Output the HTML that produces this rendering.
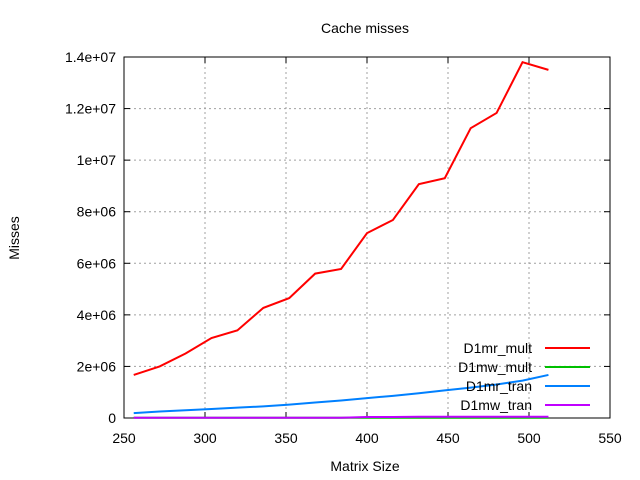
<!DOCTYPE html>
<html><head><meta charset="utf-8"><style>
body{margin:0;background:#fff}
svg{display:block;font-family:"Liberation Sans",sans-serif;font-size:14px}
</style></head><body>
<svg id="chart" width="640" height="480">
<rect width="640" height="480" fill="#fff"/>
<text x="365" y="33" text-anchor="middle">Cache misses</text>
<text x="365" y="471" text-anchor="middle">Matrix Size</text>
<text x="19" y="238" text-anchor="middle" transform="rotate(-90 19 238)">Misses</text>
<g id="grid"></g><g id="axes"></g><g id="series"></g><g id="legend"></g>
</svg>
<script>
const sizes=[256,272,288,304,320,336,352,368,384,400,416,432,448,464,480,496,512];
const d1mrMult=[1.67e6,2.0e6,2.5e6,3.1e6,3.4e6,4.27e6,4.65e6,5.6e6,5.78e6,7.17e6,7.68e6,9.07e6,9.3e6,11.24e6,11.83e6,13.8e6,13.5e6];
const d1mwMult=[0.01e6,0.01e6,0.01e6,0.01e6,0.01e6,0.01e6,0.01e6,0.01e6,0.01e6,0.01e6,0.01e6,0.01e6,0.01e6,0.01e6,0.01e6,0.01e6,0.01e6];
const d1mrTran=[0.19e6,0.25e6,0.3e6,0.35e6,0.4e6,0.45e6,0.52e6,0.6e6,0.68e6,0.77e6,0.86e6,0.96e6,1.07e6,1.18e6,1.3e6,1.45e6,1.67e6];
const d1mwTran=[0.01e6,0.01e6,0.01e6,0.01e6,0.01e6,0.01e6,0.01e6,0.01e6,0.01e6,0.04e6,0.04e6,0.05e6,0.05e6,0.05e6,0.05e6,0.05e6,0.05e6];
const xTicks=[250,300,350,400,450,500,550];
const yTicks=[0,2e6,4e6,6e6,8e6,1e7,1.2e7,1.4e7];
const yTickLabels=["0","2e+06","4e+06","6e+06","8e+06","1e+07","1.2e+07","1.4e+07"];
const seriesNames=["D1mr_mult","D1mw_mult","D1mr_tran","D1mw_tran"];
const seriesColors=["#ff0000","#00c000","#0080ff","#c000ff"];
const L=124,R=610,T=57,B=418;
const sx=v=>L+(v-250)/300*(R-L);
const sy=v=>B-v/1.4e7*(B-T);
const NS="http://www.w3.org/2000/svg";
function mk(tag,attrs,parent){const e=document.createElementNS(NS,tag);for(const k in attrs)e.setAttribute(k,attrs[k]);parent.appendChild(e);return e;}
const grid=document.getElementById('grid'),axes=document.getElementById('axes'),ser=document.getElementById('series'),leg=document.getElementById('legend');
xTicks.forEach((t,i)=>{const x=sx(t);
 if(i>0&&i<xTicks.length-1){const g=mk('line',{x1:x,x2:x,y1:T,y2:B,stroke:'#a0a0a0','stroke-dasharray':'2,3'},grid);
 
 }
 mk('line',{x1:x,x2:x,y1:B,y2:B-6,stroke:'#000'},axes);mk('line',{x1:x,x2:x,y1:T,y2:T+6,stroke:'#000'},axes);
 const tx=mk('text',{x:x,y:B+25,'text-anchor':'middle'},axes);tx.textContent=t;
 
 });
yTicks.forEach((t,i)=>{const y=sy(t);
 if(i>0&&i<yTicks.length-1){const g=mk('line',{x1:L,x2:R,y1:y,y2:y,stroke:'#a0a0a0','stroke-dasharray':'2,3'},grid);
 
 }
 mk('line',{x1:L,x2:L+6,y1:y,y2:y,stroke:'#000'},axes);mk('line',{x1:R,x2:R-6,y1:y,y2:y,stroke:'#000'},axes);
 const tx=mk('text',{x:L-8,y:y+5,'text-anchor':'end'},axes);tx.textContent=yTickLabels[i];
 
 });
const frame=mk('rect',{x:L,y:T,width:R-L,height:B-T,fill:'none',stroke:'#000'},axes);


[d1mrMult,d1mwMult,d1mrTran,d1mwTran].forEach((arr,i)=>{
 const p=mk('polyline',{points:arr.map((v,j)=>sx(sizes[j])+','+sy(v)).join(' '),fill:'none',stroke:seriesColors[i],'stroke-width':2},ser);
 
 
 const y=348+i*19;
 const t=mk('text',{x:532,y:y+5,'text-anchor':'end'},leg);t.textContent=seriesNames[i];
 
 
 const l=mk('line',{x1:545,x2:590,y1:y,y2:y,stroke:seriesColors[i],'stroke-width':2},leg);
 
 
});
</script>
</body></html>
